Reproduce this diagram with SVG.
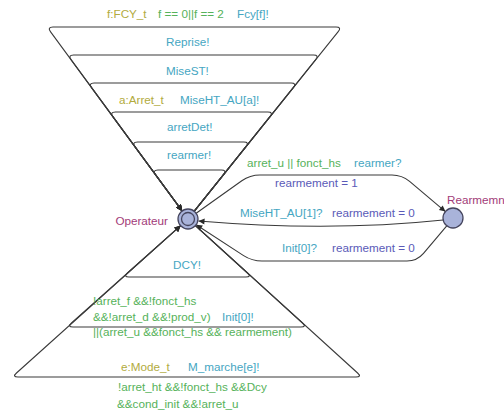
<svg xmlns="http://www.w3.org/2000/svg" width="504" height="414" viewBox="0 0 504 414">
<defs>
<style>
text{font-family:"Liberation Sans",Arial,sans-serif;font-size:11.7px}
.sel{fill:#b2ab3e}
.grd{fill:#56b25a}
.syn{fill:#45a6c2}
.upd{fill:#5a5ab8}
.nm{fill:#a23b78}
.e{fill:none;stroke:#3a3a3a;stroke-width:1.1}
.loc{fill:#a9b3da;stroke:#45455e;stroke-width:1.3}
</style>
<marker id="ar" viewBox="0 0 10 10" refX="10" refY="5" markerWidth="8" markerHeight="6" markerUnits="userSpaceOnUse" orient="auto">
<path d="M0,0 L10,5 L0,10 z" fill="#2a2a2a"/>
</marker>
</defs>
<rect width="504" height="414" fill="#ffffff"/>
<g id="connectors">
<path class="e" marker-end="url(#ar)" d="M194.3,211.2 L338.2,31.7 Q342,27 336,27 L53,27 Q47,27 50.6,31.8 L182.1,210.9"/>
<path class="e" marker-end="url(#ar)" d="M194.3,211.2 L315.7,59.7 Q319.5,55 313.5,55 L73.6,55 Q67.6,55 71.2,59.8 L182.1,210.9"/>
<path class="e" marker-end="url(#ar)" d="M194.3,211.2 L293.3,87.7 Q297.1,83 291.1,83 L94.1,83 Q88.1,83 91.7,87.8 L182.1,210.9"/>
<path class="e" marker-end="url(#ar)" d="M194.3,211.2 L270,116.7 Q273.8,112 267.8,112 L115.4,112 Q109.4,112 113,116.8 L182.1,210.9"/>
<path class="e" marker-end="url(#ar)" d="M194.3,211.2 L246,146.7 Q249.8,142 243.8,142 L137.5,142 Q131.5,142 135.1,146.8 L182.1,210.9"/>
<path class="e" marker-end="url(#ar)" d="M194.3,211.2 L223.5,174.7 Q227.3,170 221.3,170 L158,170 Q152,170 155.6,174.8 L182.1,210.9"/>
<path class="e" marker-end="url(#ar)" d="M195.4,225.7 L247.5,273 Q251.9,277 245.9,277 L129,277 Q123,277 127.5,273 L180.6,225.7"/>
<path class="e" marker-end="url(#ar)" d="M195.4,225.7 L302.5,323 Q306.9,327 300.9,327 L73,327 Q67,327 71.5,323 L180.6,225.7"/>
<path class="e" marker-end="url(#ar)" d="M195.4,225.7 L357.6,373 Q362,377 356,377 L18,377 Q12,377 16.5,373 L180.6,225.7"/>
<path class="e" marker-end="url(#ar)" d="M196.2,213.2 L241.8,180.8 Q250,175 260,175 L392,175 Q402,175 409.6,181.4 L445.4,211.6"/>
<path class="e" marker-end="url(#ar)" d="M443.2,220 Q330,232 198.5,221"/>
<path class="e" marker-end="url(#ar)" d="M446.75,225.8 L423.5,253.4 Q417,261 407,261 L262,261 Q252,261 243.6,255.6 L196.2,224.8"/>
</g>
<g id="labels">
<text class="sel" x="107" y="17.5">f:FCY_t</text>
<text class="grd" x="158" y="17.5">f == 0||f == 2</text>
<text class="syn" x="237" y="17.5">Fcy[f]!</text>
<text class="syn" x="166" y="46">Reprise!</text>
<text class="syn" x="166" y="75">MiseST!</text>
<text class="sel" x="119" y="103.5">a:Arret_t</text>
<text class="syn" x="180" y="103.5">MiseHT_AU[a]!</text>
<text class="syn" x="167" y="131">arretDet!</text>
<text class="syn" x="167" y="159">rearmer!</text>
<text class="grd" x="247" y="167">arret_u || fonct_hs</text>
<text class="syn" x="354" y="167">rearmer?</text>
<text class="upd" x="275" y="187">rearmement = 1</text>
<text class="syn" x="240" y="217">MiseHT_AU[1]?</text>
<text class="upd" x="332" y="217">rearmement = 0</text>
<text class="syn" x="282" y="252">Init[0]?</text>
<text class="upd" x="332" y="252">rearmement = 0</text>
<text class="syn" x="173" y="269">DCY!</text>
<text class="grd" x="93" y="305">!arret_f &amp;&amp;!fonct_hs</text>
<text class="grd" x="93" y="321">&amp;&amp;!arret_d &amp;&amp;!prod_v)</text>
<text class="syn" x="222" y="321">Init[0]!</text>
<text class="grd" x="93" y="336">||(arret_u &amp;&amp;fonct_hs &amp;&amp; rearmement)</text>
<text class="sel" x="121" y="371">e:Mode_t</text>
<text class="syn" x="188" y="371">M_marche[e]!</text>
<text class="grd" x="118" y="391">!arret_ht &amp;&amp;!fonct_hs &amp;&amp;Dcy</text>
<text class="grd" x="117" y="408">&amp;&amp;cond_init &amp;&amp;!arret_u</text>
</g>
<g id="Operateur">
<circle class="loc" cx="188" cy="219" r="10"/>
<circle class="loc" cx="188" cy="219" r="6.5"/>
<text class="nm" x="168" y="225" text-anchor="end">Operateur</text>
</g>
<g id="Rearmemnt">
<circle class="loc" cx="453" cy="218" r="10"/>
<text class="nm" x="447" y="204">Rearmemn</text>
</g>
</svg>
